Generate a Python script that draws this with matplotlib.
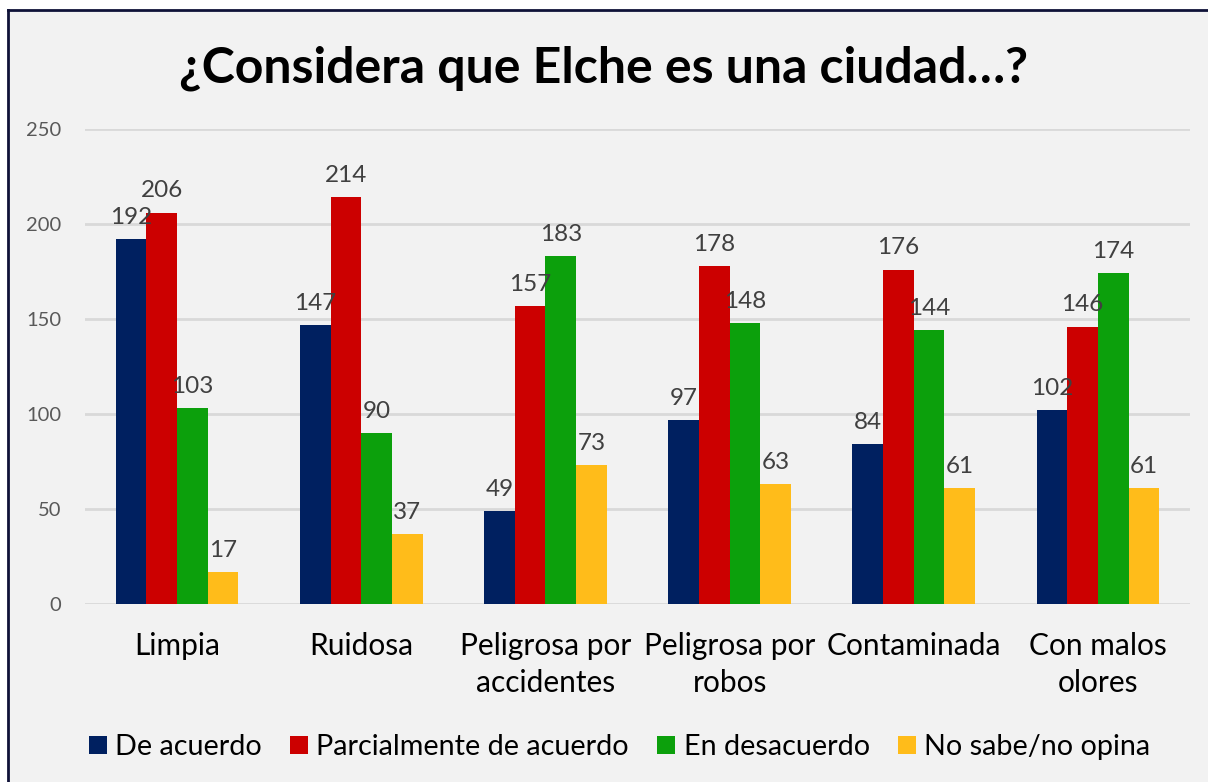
import matplotlib
matplotlib.use("Agg")
import matplotlib.pyplot as plt
import numpy as np
from matplotlib.lines import Line2D

categories = ["Limpia", "Ruidosa", "Peligrosa por\naccidentes", "Peligrosa por\nrobos",
              "Contaminada", "Con malos\nolores"]
series_names = ["De acuerdo", "Parcialmente de acuerdo", "En desacuerdo", "No sabe/no opina"]
de_acuerdo = [192, 147, 49, 97, 84, 102]
parcialmente = [206, 214, 157, 178, 176, 146]
desacuerdo = [103, 90, 183, 148, 144, 174]
no_sabe = [17, 37, 73, 63, 61, 61]
colors = ["#002060", "#CC0000", "#0CA00C", "#FFBC1A"]
title = "¿Considera que Elche es una ciudad…?"
yticks = [0, 50, 100, 150, 200, 250]

FONT = "Lato"
bg = "#F2F2F2"

fig = plt.figure(figsize=(12.08, 7.82), dpi=100, facecolor=bg)
ax = fig.add_axes([85/1208, 1 - 604/782, (1190-85)/1208, (604-129)/782])
ax.set_facecolor(bg)

series = [de_acuerdo, parcialmente, desacuerdo, no_sabe]
x = np.arange(len(categories))
w = 0.1667
for i, (vals, c) in enumerate(zip(series, colors)):
    xs = x + (i - 1.5) * w
    ax.bar(xs, vals, width=w, color=c, zorder=3, linewidth=0)
    for xi, v in zip(xs, vals):
        ax.annotate(str(v), (xi, v), xytext=(0, 8), textcoords="offset points",
                    ha="center", va="bottom", fontsize=17.5, color="#404040",
                    family=FONT, zorder=4)

ax.set_xlim(-0.5, len(categories) - 0.5)
ax.set_ylim(0, 250)
ax.set_yticks(yticks)
ax.yaxis.grid(True, color="#D9D9D9", linewidth=2, zorder=0)
ax.set_axisbelow(True)
for s in ax.spines.values():
    s.set_visible(False)
ax.tick_params(axis="both", length=0)
ax.tick_params(axis="y", pad=17, labelsize=14.5, labelcolor="#595959")
ax.tick_params(axis="x", pad=20, labelsize=21.5, labelcolor="#000000")
ax.set_xticks(x)
ax.set_xticklabels(categories, linespacing=1.38)
for lab in ax.get_xticklabels() + ax.get_yticklabels():
    lab.set_family(FONT)

fig.text(0.5, 1 - 68/782, title, ha="center", va="center", fontsize=36,
         fontweight="bold", family=FONT, color="#000000")

handles = [Line2D([0], [0], marker="s", linestyle="none", markersize=13,
                  markerfacecolor=c, markeredgewidth=0) for c in colors]
fig.legend(handles, series_names, loc="center", bbox_to_anchor=(0.512, 1 - 747/782),
           ncol=4, frameon=False, prop={"family": FONT, "size": 20.7},
           handletextpad=0.2, columnspacing=0.9, handlelength=0.8)

# border (top and left visible)
fig.add_artist(Line2D([8/1208, 8/1208], [0, 1 - 10/782], transform=fig.transFigure,
                      color="#0F1238", linewidth=2))
fig.add_artist(Line2D([8/1208, 1], [1 - 10/782, 1 - 10/782], transform=fig.transFigure,
                      color="#0F1238", linewidth=2))
# white margin outside border
fig.patches.append(plt.Rectangle((0, 0), 7/1208, 1, transform=fig.transFigure,
                                 color="white", zorder=-1))
fig.patches.append(plt.Rectangle((0, 1 - 9/782), 1, 9/782, transform=fig.transFigure,
                                 color="white", zorder=-1))

fig.savefig("out.png", dpi=100, facecolor=bg)
